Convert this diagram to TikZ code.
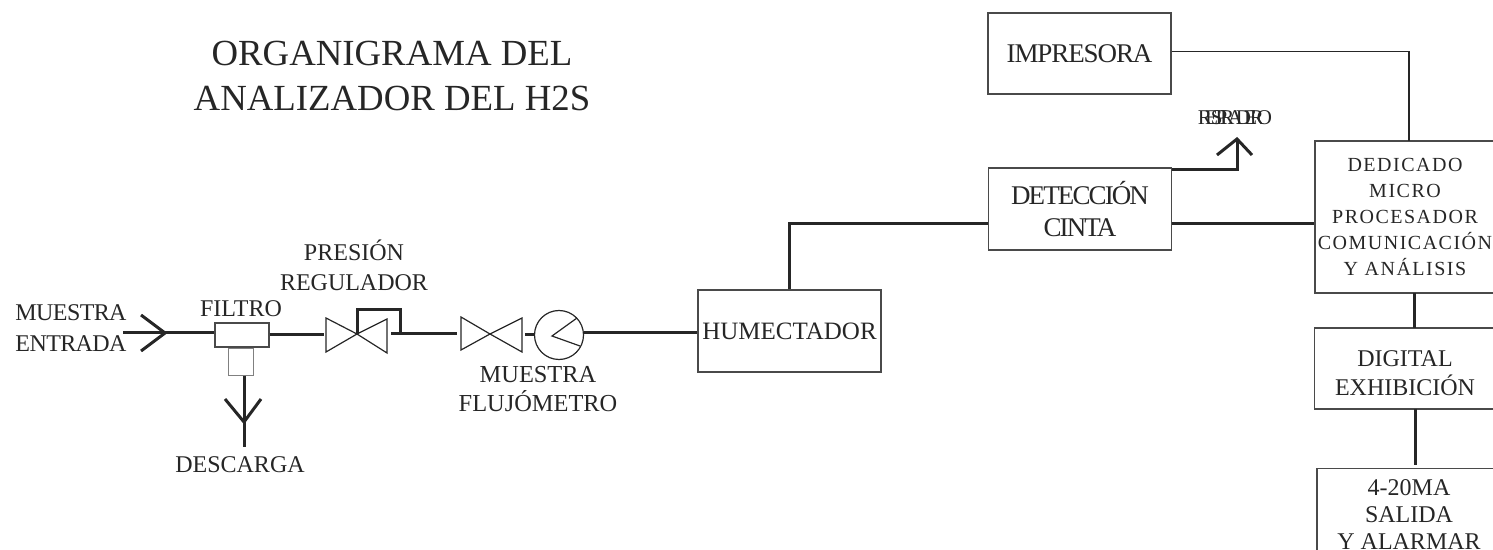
\documentclass[tikz,border=0pt]{standalone}
\usepackage{fontspec}
\setmainfont{Liberation Serif}
\usetikzlibrary{positioning,calc}
\definecolor{tinta}{HTML}{262626}
\definecolor{borde}{HTML}{4A4A4A}
\tikzset{
  caja/.style={draw=borde, line width=.6pt, text=tinta, align=center, inner sep=0pt, font=\fontsize{12.5}{14.5}\selectfont},
  etiqueta/.style={text=tinta, align=center, inner sep=0pt, font=\fontsize{12}{15}\selectfont},
  tubo/.style={draw=tinta, line width=1.5pt},
  fino/.style={draw=tinta, line width=.6pt},
}
\begin{document}
\begin{tikzpicture}[x=.5pt, y=-.5pt]
  \useasboundingbox (0,0) rectangle (1493,550);
  % titulo
  \node[etiqueta, font=\fontsize{18.4}{22.5}\selectfont] (titulo) at (392,76) {ORGANIGRAMA DEL\\ANALIZADOR DEL H2S};
  % cajas
  \node[caja, minimum width=91.5pt, minimum height=40.5pt, font=\fontsize{13.5}{16}\selectfont\addfontfeature{LetterSpace=-4}] (impresora) at (1079.5,53.5) {IMPRESORA};
  \node[caja, minimum width=91.5pt, minimum height=41pt, font=\fontsize{13.5}{15.7}\selectfont\addfontfeature{LetterSpace=-7}] (cinta) at (1080,209) {DETECCIÓN\\CINTA};
  \node[caja, minimum width=91.5pt, minimum height=41pt] (humectador) at (789.5,331) {HUMECTADOR};
  \node[caja, minimum width=90pt, minimum height=76pt, font=\fontsize{10}{13}\selectfont\addfontfeature{LetterSpace=7.5}] (micro) at (1405,217)
    {DEDICADO\\MICRO\\PROCESADOR\\COMUNICACIÓN\\Y ANÁLISIS};
  \node[caja, minimum width=90.5pt, minimum height=40.5pt, font=\fontsize{12}{14.5}\selectfont] (exhibicion) at (1405,368.5) {\rule{0pt}{12.5pt}DIGITAL\\EXHIBICIÓN};
  \node[caja, minimum width=92pt, anchor=north, inner ysep=5.5pt, font=\fontsize{12}{13.5}\selectfont] (salida) at (1409,468) {4-20MA\\SALIDA\\Y ALARMAR};
  % filtro
  \node[caja, minimum width=27pt, minimum height=12pt] (filtro) at (242,335) {};
  \node[caja, below=0pt of filtro, draw=gray, minimum width=12.5pt, minimum height=13.5pt, xshift=-.5pt] (purga) {};
  % etiquetas
  \node[etiqueta, font=\fontsize{12}{15.7}\selectfont\addfontfeature{LetterSpace=-2.5}] (entrada) at (71,328) {MUESTRA\\ENTRADA};
  \node[etiqueta] (ltfiltro) at (241,309) {FILTRO};
  \node[etiqueta] (regulador) at (354,265) {PRESIÓN\\REGULADOR};
  \node[etiqueta] (descarga) at (240,465) {DESCARGA};
  \node[etiqueta, font=\fontsize{12.2}{14.6}\selectfont] (flujometro) at (538,389) {MUESTRA\\FLUJÓMETRO};
  \node[etiqueta, font=\fontsize{10.5}{12}\selectfont\addfontfeature{LetterSpace=-33}] (respiradero) at (1235,118) {RESPIRADERO};
  % puntos de la linea
  \coordinate (in) at (123,333);
  \coordinate (inpunta) at (165,333);
  \coordinate (va) at (357,334);
  \coordinate (vb) at (490,334);
  \node[fino, draw, circle, minimum size=24.5pt, inner sep=0pt] (medidor) at (559,335) {};
  \coordinate (puntero) at (552,336);
  \coordinate (fin) at (244,447);
  \coordinate (finpunta) at (244,422);
  \coordinate (ventila) at (1237,139);
  % valvulas
  \draw[fino] (va) -- (326,318) -- (326,352) -- (va) -- (387,319) -- (387,353) -- cycle;
  \draw[fino] (vb) -- (461,317) -- (461,350) -- (vb) -- (522,318) -- (522,352) -- cycle;
  \draw[fino] (577,318) -- (puntero) -- (580,346);
  % tuberia
  \draw[tubo] (in) -- (filtro.west |- in);
  \draw[tubo] (141,315) -- (inpunta) -- (141,351);
  \draw[tubo] (filtro.east) -- (324,335);
  \draw[tubo] (va) -- (357,310) -- (400,310) -- (400,334);
  \draw[tubo] (391,334) -- (457,334);
  \draw[tubo] (525,335) -- (medidor.west);
  \draw[tubo] (medidor.east |- 0,333) -- (humectador.west |- 0,333);
  \draw[tubo] (purga.south -| fin) -- (fin);
  \draw[tubo] (225,399) -- (finpunta) -- (261,399);
  \draw[tubo] (humectador.north) |- ([yshift=-7.5pt]cinta.west);
  \draw[tubo] ([yshift=-7.5pt]cinta.east) -- (micro.west |- 0,224);
  \draw[tubo] ([yshift=19.5pt]cinta.east) -| (ventila);
  \draw[tubo] (1217,155) -- (ventila) -- (1252,155);
  \draw[fino, line width=.8pt] ([yshift=1pt]impresora.east) -| (1409,141);
  \draw[tubo] (1414,293) -- (1414,328);
  \draw[tubo] (1415,409) -- (1415,465);
\end{tikzpicture}
\end{document}
